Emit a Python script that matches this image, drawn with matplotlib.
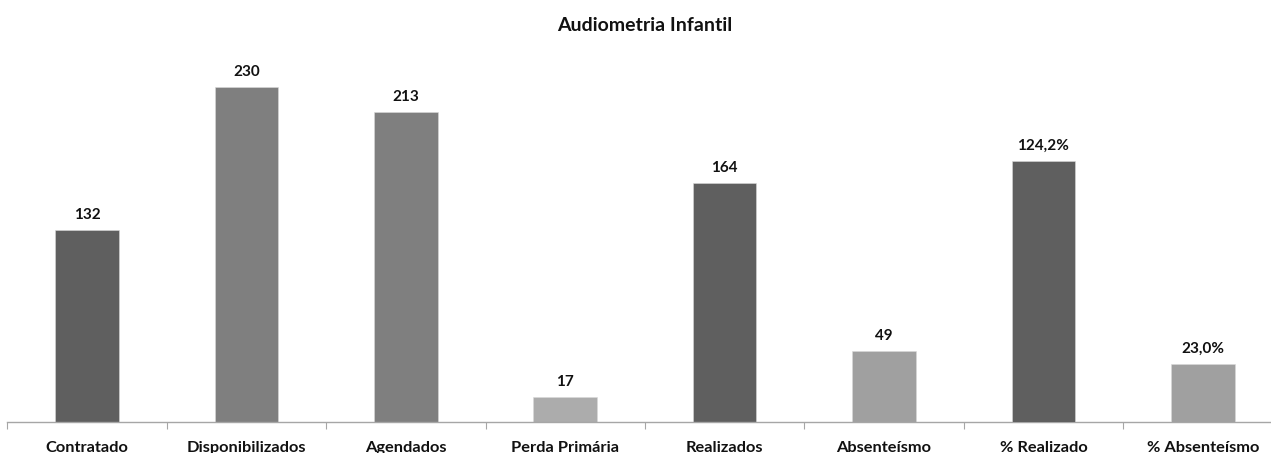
import matplotlib
matplotlib.use("Agg")
import matplotlib.pyplot as plt
import numpy as np

# Audiometria Infantil - production figures
categories = ["Contratado", "Disponibilizados", "Agendados", "Perda Primária",
              "Realizados", "Absenteísmo", "% Realizado", "% Absenteísmo"]
count_values = [132, 230, 213, 17, 164, 49]
count_labels = ["132", "230", "213", "17", "164", "49"]
pct_values = [1.242, 0.230]
pct_labels = ["124,2%", "23,0%"]

count_colors = ["#5f5f5f", "#7f7f7f", "#7f7f7f", "#acacac", "#5f5f5f", "#a0a0a0"]
pct_colors = ["#5f5f5f", "#a0a0a0"]

FONT = "Lato"
W, H, DPI = 1271, 453, 100
fig = plt.figure(figsize=(W / DPI, H / DPI), dpi=DPI)
fig.patch.set_facecolor("white")

# axes geometry in pixels
left_px, baseline_px = 7.3, 422.0
slot_px = 159.4
px_per_count = 1.455
count_top = 250.0
height_px = count_top * px_per_count
ax = fig.add_axes([left_px / W, (H - baseline_px) / H,
                   8 * slot_px / W, height_px / H])
ax.set_xlim(-0.5, 7.5)
ax.set_ylim(0, count_top)

# secondary scale for the percentage bars
pct_floor = -0.061
pct_px = 200.6
pct_top = pct_floor + height_px / pct_px
ax2 = ax.twinx()
ax2.set_ylim(pct_floor, pct_top)

bar_w = 0.4
x_counts = np.arange(len(count_values))
x_pcts = np.arange(len(count_values), len(categories))

ax.bar(x_counts, count_values, width=bar_w, color=count_colors,
       edgecolor="#d9d9d9", linewidth=0.4, zorder=2)
ax2.bar(x_pcts, np.array(pct_values) - pct_floor, bottom=pct_floor,
        width=bar_w, color=pct_colors, edgecolor="#d9d9d9", linewidth=0.4,
        zorder=2)

lbl_kw = dict(ha="center", va="baseline", textcoords="offset points",
              xytext=(0, 8), fontsize=11, fontweight="bold",
              family=FONT, color="#111111")
for xi, v, t in zip(x_counts, count_values, count_labels):
    ax.annotate(t, (xi, v), **lbl_kw)
for xi, v, t in zip(x_pcts, pct_values, pct_labels):
    ax2.annotate(t, (xi, v), **lbl_kw)

for a in (ax, ax2):
    for s in ("left", "right", "top"):
        a.spines[s].set_visible(False)
    a.set_yticks([])
    a.patch.set_visible(False)
ax.spines["bottom"].set_color("#a6a6a6")
ax.spines["bottom"].set_linewidth(1.0)
ax2.spines["bottom"].set_visible(False)

ax.set_xticks(np.arange(len(categories)))
ax.set_xticklabels(categories, fontsize=11.8, fontweight="bold",
                   family=FONT, color="#111111")
ax.tick_params(axis="x", which="major", length=0, pad=14)
ax.set_xticks(np.arange(-0.5, 8.0, 1.0), minor=True)
ax.tick_params(axis="x", which="minor", length=5, width=0.8,
               color="#a6a6a6", direction="out")

fig.text((left_px + 4 * slot_px) / W, 1 - 31 / H, "Audiometria Infantil",
         ha="center", va="baseline", fontsize=14, fontweight="bold",
         family=FONT, color="#111111")

fig.savefig("out.png", dpi=DPI)
